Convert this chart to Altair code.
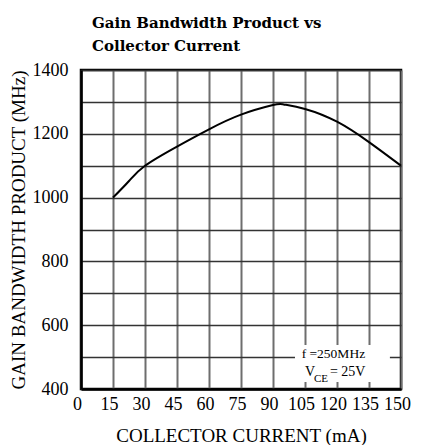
import altair as alt
import pandas as pd

# Data
current_ma = [15, 22.5, 30, 45, 60, 75, 90, 95, 105, 120, 135, 150]
gbw_mhz = [1000, 1052, 1100, 1160, 1214, 1260, 1290, 1292, 1278, 1238, 1174, 1100]

x_ticks = [0, 15, 30, 45, 60, 75, 90, 105, 120, 135, 150]
y_ticks = [400, 500, 600, 700, 800, 900, 1000, 1100, 1200, 1300, 1400]

# annotation box (data coords) and texts
box_x = [100.3, 144.8]
box_y = [422, 538]
note_texts = ["f =250MHz", "V", "CE", "= 25V"]
note_x = [118.3, 105.0, 109.2, 116.7]
note_y = [496, 441, 423, 441]
note_size = [13.5, 14, 11, 14]
note_align = ["center", "left", "left", "left"]

FONT = "Liberation Serif"
TFONT = "DejaVu Serif"

df = pd.DataFrame({"x": current_ma, "y": gbw_mhz})

xscale = alt.Scale(domain=[0, 150], nice=False, zero=False)
yscale = alt.Scale(domain=[400, 1400], nice=False, zero=False)

xaxis = alt.Axis(values=x_ticks, title="COLLECTOR CURRENT (mA)",
                 grid=True, gridColor="#6e6e6e", gridWidth=2,
                 domainColor="black", domainWidth=2.5, ticks=False,
                 labelFont=FONT, labelFontSize=18, labelColor="black",
                 labelPadding=6, labelOffset=-4, labelFlush=False, labelOverlap=False,
                 titleFont=FONT, titleFontSize=19, titleFontWeight="normal",
                 titleColor="black", titlePadding=13)
yaxis = alt.Axis(values=y_ticks, title="GAIN BANDWIDTH PRODUCT (MHz)",
                 labelExpr="datum.value % 200 == 0 ? datum.value : ''",
                 grid=True, gridColor="#333333", gridWidth=1.6,
                 domainColor="black", domainWidth=2.5, ticks=False,
                 labelFont=FONT, labelFontSize=18, labelColor="black",
                 labelPadding=13, labelFlush=False, labelOverlap=False,
                 titleFont=FONT, titleFontSize=19, titleFontWeight="normal",
                 titleColor="black", titlePadding=4)

X = alt.X("x:Q", scale=xscale, axis=xaxis)
Y = alt.Y("y:Q", scale=yscale, axis=yaxis)

line = alt.Chart(df).mark_line(color="black", strokeWidth=2, interpolate="natural").encode(
    x=X, y=Y)

box_df = pd.DataFrame({"x": [box_x[0]], "x2": [box_x[1]], "y": [box_y[0]], "y2": [box_y[1]]})
box = alt.Chart(box_df).mark_rect(color="white").encode(x=X, x2="x2:Q", y=Y, y2="y2:Q")

notes_df = pd.DataFrame({"t": note_texts, "x": note_x, "y": note_y})
notes = []
for i in range(len(note_texts)):
    sub = notes_df.iloc[[i]]
    notes.append(alt.Chart(sub).mark_text(font=FONT, fontSize=note_size[i],
                                          align=note_align[i], baseline="alphabetic",
                                          color="black").encode(
        x=X, y=Y, text="t:N"))

chart = alt.layer(line, box, *notes).properties(
    width=320, height=319,
    padding={"left": 73, "top": 62, "right": 14, "bottom": 56},
    autosize=alt.AutoSizeParams(type="none"),
    title=alt.TitleParams(["Gain Bandwidth Product vs", "Collector Current"],
                          font=TFONT, fontSize=15, fontWeight="bold", color="black",
                          anchor="start", frame="group", dx=11, offset=7, lineHeight=23.5),
).configure_view(stroke="black", strokeWidth=2.5)

chart.save("out.html", embed_options={"renderer": "svg", "actions": False})
